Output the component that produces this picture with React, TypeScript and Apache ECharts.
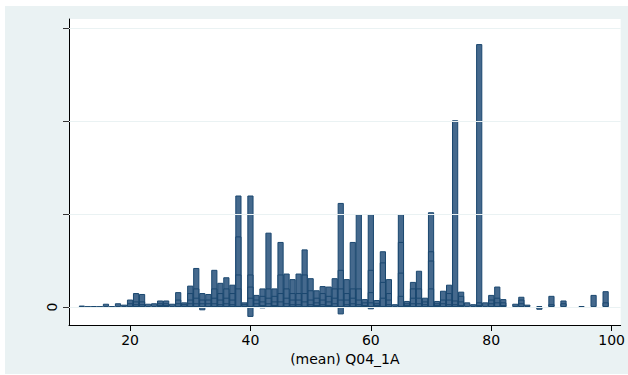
import React, { useEffect, useRef } from "react";
import * as echarts from "echarts";

// x positions (value of (mean) Q04_1A) where bars are drawn
const xValues = [12,13,14,15,16,17,18,19,20,21,22,23,24,25,26,27,28,29,30,31,32,33,34,35,36,37,38,39,40,41,42,43,44,45,46,47,48,49,50,51,52,53,54,55,56,57,58,59,60,61,62,63,64,65,66,67,68,69,70,71,72,73,74,75,76,77,78,79,80,81,82,84,85,86,88,90,92,95,97,99];

// tallest overlapping bar at each x
const layer1 = [0.15,0.05,0.1,0.05,0.35,0.1,0.4,0.25,0.8,1.5,1.4,0.35,0.4,0.7,0.7,0.35,1.6,0.5,2.3,4.2,1.5,1.4,4.0,2.6,3.2,2.4,12.0,0.5,12.0,1.3,2.0,8.0,2.0,7.0,3.6,3.0,3.6,6.2,3.1,1.8,2.25,2.2,3.1,11.2,3.0,7.0,10.0,0.85,10.0,0.75,6.0,3.0,0.3,10.0,0.65,2.7,3.9,1.0,10.2,0.65,1.75,2.4,20.1,1.65,0.5,0.3,28.3,0.5,1.3,2.2,0.85,0.35,1.1,0.25,0.1,1.2,0.7,0.1,1.3,1.7];

// second overlapping bar at each x (null = none)
const layer2 = [null,null,null,null,null,null,null,null,0.4,0.6,0.6,null,null,0.4,0.4,null,0.8,0.3,1.5,2.0,0.8,0.8,2.0,1.5,2.0,1.5,7.6,0.3,3.5,0.8,1.2,2.0,1.2,3.5,2.0,1.5,1.5,3.5,1.8,1.0,1.5,1.2,2.0,4.0,1.5,2.0,2.0,0.5,4.0,0.4,4.8,1.5,null,7.0,0.4,2.0,2.0,0.6,6.0,0.4,0.8,1.5,0.7,1.2,null,null,0.5,null,0.8,1.0,0.5,null,0.8,null,null,0.3,0.4,null,null,0.5];

// third overlapping bar at each x (null = none)
const layer3 = [null,null,null,null,null,null,null,null,null,0.3,0.3,null,null,0.2,0.2,null,0.4,null,0.8,1.0,0.4,0.4,1.0,0.8,1.0,0.8,3.5,null,2.2,0.4,0.6,1.0,0.6,1.5,1.0,0.8,0.8,1.5,0.8,0.5,0.8,0.6,1.0,2.0,0.8,1.0,0.8,0.2,1.6,0.2,2.7,0.8,null,3.7,0.2,1.0,1.0,0.3,5.0,0.2,0.4,0.8,0.3,0.6,null,null,0.2,null,0.4,0.5,0.2,null,0.4,null,null,null,null,null,null,null];

// fourth overlapping bar at each x (null = none)
const layer4 = [null,null,null,null,null,null,null,null,null,null,null,null,null,null,null,null,null,null,0.4,0.4,null,null,0.4,0.3,0.4,0.3,2.0,null,1.0,null,0.2,0.4,0.2,0.6,0.4,0.3,0.3,0.6,0.3,0.2,0.3,0.2,0.4,0.8,0.3,0.4,0.3,null,0.5,null,1.0,0.3,null,1.2,null,0.4,0.4,null,2.0,null,null,0.3,null,0.2,null,null,null,null,null,null,null,null,null,null,null,null,null,null,null,null];

// bars falling below zero
const negX = [32, 40, 42, 50, 55, 60, 88];
const negY = [-0.36, -1.07, -0.15, -0.1, -0.8, -0.25, -0.3];

const yTicks = [0, 10, 20, 30];
const yLabels = [0];
const xTicks = [20, 40, 60, 80, 100];
const xName = "(mean) Q04_1A";

const FILL = "#45698D";
const EDGE = "#1A476F";
const FONT = "DejaVu Sans";

function pairs(ys: (number | null)[]) {
  const out: [number, number][] = [];
  ys.forEach((y, i) => {
    if (y !== null) out.push([xValues[i], y]);
  });
  return out;
}

export default function App() {
  const ref = useRef<HTMLDivElement>(null);
  useEffect(() => {
    if (!ref.current) return;
    const chart = echarts.init(ref.current, null, { renderer: "svg" });
    const barBase = {
      type: "bar" as const,
      barWidth: 6.2,
      barGap: "-100%",
      z: 3,
      itemStyle: { color: FILL, borderColor: EDGE, borderWidth: 1 },
      emphasis: { disabled: true },
    };
    chart.setOption({
      animation: false,
      backgroundColor: "#EAF2F3",
      grid: {
        left: 64,
        top: 13,
        right: 3,
        bottom: 49,
        show: true,
        backgroundColor: "#FFFFFF",
        borderWidth: 0,
      },
      xAxis: {
        type: "value",
        min: 9.86,
        max: 101.5,
        name: xName,
        nameLocation: "middle",
        nameGap: 20,
        nameTextStyle: { fontFamily: FONT, fontSize: 14, color: "#000" },
        axisLine: { show: true, onZero: false, lineStyle: { color: "#000", width: 1 } },
        axisTick: { show: true, length: 6, customValues: xTicks, lineStyle: { color: "#000" } },
        axisLabel: { customValues: xTicks, margin: 8, fontFamily: FONT, fontSize: 14, color: "#000" },
        splitLine: { show: false },
      },
      yAxis: {
        type: "value",
        min: -1.94,
        max: 31,
        axisLine: { show: true, onZero: false, lineStyle: { color: "#000", width: 1 } },
        axisTick: { show: true, length: 6, customValues: yTicks, lineStyle: { color: "#333" } },
        axisLabel: { customValues: yLabels, rotate: 90, margin: 10, fontFamily: FONT, fontSize: 14, color: "#000" },
        splitLine: { show: false },
      },
      series: [
        {
          type: "line",
          data: [],
          z: 1,
          silent: true,
          markLine: {
            silent: true,
            symbol: "none",
            label: { show: false },
            lineStyle: { color: "#EAF2F3", width: 1, type: "solid" },
            data: yTicks.map((v) => ({ yAxis: v })),
          },
        },
        { ...barBase, data: pairs(layer1) },
        { ...barBase, data: pairs(layer2) },
        { ...barBase, data: pairs(layer3) },
        { ...barBase, data: pairs(layer4) },
        { ...barBase, data: negX.map((x, i) => [x, negY[i]]) },
      ],
    });
    return () => chart.dispose();
  }, []);
  return (
    <div style={{ position: "fixed", left: 0, top: 0, width: 628, height: 375, background: "#FFFFFF" }}>
      <div ref={ref} style={{ position: "absolute", left: 5, top: 6, width: 623, height: 368 }} />
    </div>
  );
}
